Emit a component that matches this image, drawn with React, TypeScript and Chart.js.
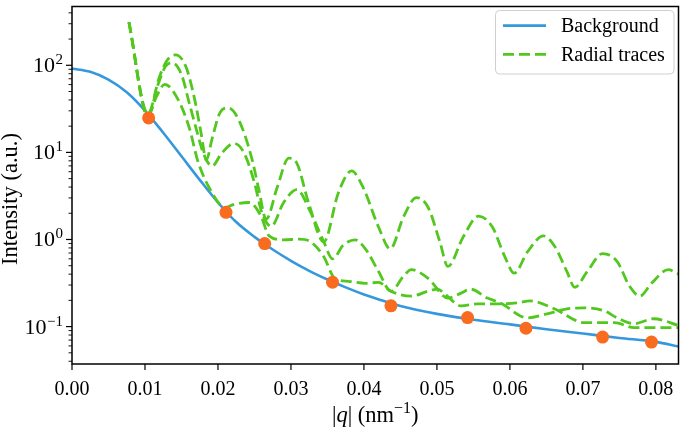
import React, { useEffect, useRef } from 'react';
import { Chart, registerables } from 'chart.js';

Chart.register(...registerables);

// ---------- data ----------
const BG_Q = [0, 0.0025, 0.005, 0.0075, 0.01, 0.0125, 0.015, 0.0175, 0.02, 0.0225, 0.025, 0.0275, 0.03, 0.0325, 0.035, 0.0375, 0.04, 0.0425, 0.045, 0.05, 0.055, 0.06, 0.065, 0.07, 0.075, 0.08, 0.0832];
const BG_I = [91.8, 84.1, 68.4, 49.0, 30.2, 16.8, 9.02, 4.84, 2.66, 1.585, 1.072, 0.767, 0.569, 0.437, 0.347, 0.282, 0.234, 0.1995, 0.172, 0.14, 0.12, 0.106, 0.0933, 0.0832, 0.0741, 0.0668, 0.059];

const DOT_Q = [0.0105, 0.0211, 0.0264, 0.0357, 0.0437, 0.0542, 0.0622, 0.0727, 0.0794];
const DOT_I = [24.9, 2.05, 0.898, 0.323, 0.173, 0.127, 0.0957, 0.0757, 0.0664];

const TRACE_A_Q = [0.0078, 0.0104, 0.012, 0.0131, 0.0142, 0.0156, 0.0168, 0.0177, 0.0184, 0.0192, 0.0202, 0.0214, 0.0229, 0.0247, 0.0256, 0.0266, 0.0281, 0.0297, 0.0308, 0.0324, 0.0345, 0.0365, 0.0383, 0.0399, 0.042, 0.0436, 0.0454, 0.0472, 0.0488, 0.0504, 0.0515, 0.0536, 0.0557, 0.0576, 0.0593, 0.0606, 0.0624, 0.0646, 0.0662, 0.0678, 0.0689, 0.0706, 0.0727, 0.0747, 0.0764, 0.0778, 0.0794, 0.0817, 0.0832];
const TRACE_A_I = [312, 27.7, 74.5, 116, 132, 96.6, 40.9, 16.4, 8.15, 14.4, 27.7, 32.4, 23.1, 8.15, 3.73, 1.71, 3.93, 8.6, 7.54, 2.66, 0.94, 3.45, 6.12, 3.93, 1.39, 0.78, 1.8, 3.03, 2.33, 0.94, 0.49, 1.07, 1.85, 1.39, 0.635, 0.41, 0.72, 1.1, 0.82, 0.43, 0.283, 0.43, 0.69, 0.557, 0.29, 0.224, 0.314, 0.45, 0.397];

const TRACE_B_Q = [0.0078, 0.0104, 0.0118, 0.0128, 0.0137, 0.015, 0.0161, 0.0172, 0.018, 0.0192, 0.0205, 0.0222, 0.0236, 0.025, 0.026, 0.0273, 0.029, 0.0308, 0.0327, 0.0345, 0.0357, 0.0372, 0.0388, 0.0402, 0.042, 0.0437, 0.0454, 0.0465, 0.0488, 0.0515, 0.0533, 0.0546, 0.0569, 0.0587, 0.0624, 0.0651, 0.0678, 0.0702, 0.0729, 0.0747, 0.077, 0.0797, 0.0832];
const TRACE_B_I = [312, 26.3, 60.5, 96.6, 107, 78.5, 35.9, 16.4, 9.77, 6.97, 9.77, 12.7, 9.77, 4.48, 2.05, 1.42, 2.66, 3.73, 2.05, 0.94, 0.6, 0.867, 0.99, 0.78, 0.43, 0.255, 0.377, 0.45, 0.358, 0.213, 0.242, 0.269, 0.213, 0.187, 0.126, 0.14, 0.16, 0.164, 0.152, 0.126, 0.108, 0.123, 0.1026];

const TRACE_C_Q = [0.0078, 0.0104, 0.0116, 0.0127, 0.0145, 0.0161, 0.0172, 0.0188, 0.021, 0.0222, 0.0243, 0.0259, 0.027, 0.029, 0.0311, 0.0327, 0.0345, 0.036, 0.0379, 0.0402, 0.042, 0.0437, 0.0465, 0.0488, 0.0501, 0.0511, 0.0533, 0.0556, 0.0583, 0.061, 0.0628, 0.0661, 0.0702, 0.0743, 0.077, 0.0811, 0.0832];
const TRACE_C_I = [312, 26.3, 44.3, 60.5, 40.9, 18.8, 8.15, 3.93, 2.33, 2.53, 2.66, 1.85, 1.1, 0.99, 1.01, 0.94, 0.635, 0.358, 0.331, 0.314, 0.322, 0.255, 0.224, 0.255, 0.269, 0.236, 0.173, 0.182, 0.182, 0.187, 0.197, 0.16, 0.111, 0.111, 0.0975, 0.0975, 0.0975];

const X_TICKS = [0, 0.01, 0.02, 0.03, 0.04, 0.05, 0.06, 0.07, 0.08];
const Y_MAJOR_EXP = [-1, 0, 1, 2];
const X_MIN = 0;
const X_MAX = 0.0831;
const Y_MIN = 0.0372;
const Y_MAX = 473;

const LABEL_BG = 'Background';
const LABEL_TR = 'Radial traces';
const Y_TITLE = 'Intensity (a.u.)';

// ---------- styles ----------
const FONT = '"Liberation Serif", "Times New Roman", serif';
const BLUE = '#3598dc';
const GREEN = '#52c81e';
const ORANGE = '#f96b1e';
const DASH = [11, 5];
const TITLE_FS = 22.5;

const pts = (q: number[], v: number[]) => q.map((x, i) => ({ x, y: v[i] }));

const decor = {
  id: 'decor',
  afterDraw(chart: any) {
    const { ctx, chartArea: a } = chart;
    const xs = chart.scales.x;
    const ys = chart.scales.y;
    ctx.save();
    ctx.strokeStyle = '#000';
    ctx.fillStyle = '#000';

    // frame
    ctx.lineWidth = 1.5;
    ctx.strokeRect(a.left, a.top, a.right - a.left, a.bottom - a.top);

    // x ticks + labels
    ctx.lineWidth = 1.2;
    ctx.font = `20px ${FONT}`;
    ctx.textAlign = 'center';
    ctx.textBaseline = 'alphabetic';
    X_TICKS.forEach((v) => {
      const px = xs.getPixelForValue(v);
      ctx.beginPath();
      ctx.moveTo(px, a.bottom);
      ctx.lineTo(px, a.bottom + 6);
      ctx.stroke();
      ctx.fillText(v.toFixed(2), px, a.bottom + 31);
    });

    // y ticks (major + minor)
    const eMin = Math.floor(Math.log10(Y_MIN));
    const eMax = Math.ceil(Math.log10(Y_MAX));
    for (let e = eMin; e <= eMax; e++) {
      for (let m = 1; m <= 9; m++) {
        const v = m * Math.pow(10, e);
        if (v < Y_MIN || v > Y_MAX) continue;
        const py = ys.getPixelForValue(v);
        const len = m === 1 ? 6 : 3.5;
        ctx.lineWidth = m === 1 ? 1.2 : 0.9;
        ctx.beginPath();
        ctx.moveTo(a.left - len, py);
        ctx.lineTo(a.left, py);
        ctx.stroke();
      }
    }

    // y labels 10^e
    Y_MAJOR_EXP.forEach((e) => {
      const py = ys.getPixelForValue(Math.pow(10, e));
      const sup = e < 0 ? '\u2212' + String(-e) : String(e);
      ctx.font = `15px ${FONT}`;
      const sw = ctx.measureText(sup).width;
      const right = a.left - 9;
      ctx.textAlign = 'left';
      ctx.fillText(sup, right - sw, py - 1);
      ctx.font = `22px ${FONT}`;
      ctx.textAlign = 'right';
      ctx.fillText('10', right - sw - 0.5, py + 7);
    });

    // x title: |q| (nm^-1)
    const parts: { t: string; f: string; dy: number }[] = [
      { t: '|', f: `${TITLE_FS}px ${FONT}`, dy: 0 },
      { t: 'q', f: `italic ${TITLE_FS}px ${FONT}`, dy: 0 },
      { t: '|', f: `${TITLE_FS}px ${FONT}`, dy: 0 },
      { t: ' (nm', f: `${TITLE_FS}px ${FONT}`, dy: 0 },
      { t: '\u22121', f: `16px ${FONT}`, dy: -9 },
      { t: ')', f: `${TITLE_FS}px ${FONT}`, dy: 0 },
    ];
    let total = 0;
    parts.forEach((p) => {
      ctx.font = p.f;
      total += ctx.measureText(p.t).width;
    });
    let cx = (a.left + a.right) / 2 - total / 2;
    ctx.textAlign = 'left';
    parts.forEach((p) => {
      ctx.font = p.f;
      ctx.fillText(p.t, cx, 422 + p.dy);
      cx += ctx.measureText(p.t).width;
    });

    // y title
    ctx.save();
    ctx.translate(17, 199);
    ctx.rotate(-Math.PI / 2);
    ctx.font = `${TITLE_FS}px ${FONT}`;
    ctx.textAlign = 'center';
    ctx.fillText(Y_TITLE, 0, 0);
    ctx.restore();

    // legend
    const lx = 495.5, ly = 10.5, lw = 178.5, lh = 63.5, r = 4;
    ctx.beginPath();
    ctx.moveTo(lx + r, ly);
    ctx.lineTo(lx + lw - r, ly);
    ctx.arcTo(lx + lw, ly, lx + lw, ly + r, r);
    ctx.lineTo(lx + lw, ly + lh - r);
    ctx.arcTo(lx + lw, ly + lh, lx + lw - r, ly + lh, r);
    ctx.lineTo(lx + r, ly + lh);
    ctx.arcTo(lx, ly + lh, lx, ly + lh - r, r);
    ctx.lineTo(lx, ly + r);
    ctx.arcTo(lx, ly, lx + r, ly, r);
    ctx.closePath();
    ctx.fillStyle = 'rgba(255,255,255,0.8)';
    ctx.fill();
    ctx.strokeStyle = '#cfcfcf';
    ctx.lineWidth = 1;
    ctx.stroke();

    const rows = [
      { label: LABEL_BG, color: BLUE, dash: [] as number[], y: 25.7 },
      { label: LABEL_TR, color: GREEN, dash: DASH, y: 54.3 },
    ];
    rows.forEach((row) => {
      ctx.strokeStyle = row.color;
      ctx.lineWidth = 2.8;
      ctx.setLineDash(row.dash);
      ctx.beginPath();
      ctx.moveTo(503, row.y);
      ctx.lineTo(546, row.y);
      ctx.stroke();
      ctx.setLineDash([]);
      ctx.fillStyle = '#000';
      ctx.font = `20px ${FONT}`;
      ctx.textAlign = 'left';
      ctx.fillText(row.label, 561, row.y + 6.5);
    });

    ctx.restore();
  },
};

export default function App() {
  const ref = useRef<HTMLCanvasElement | null>(null);

  useEffect(() => {
    if (!ref.current) return;
    const traceStyle = {
      borderColor: GREEN,
      borderWidth: 2.8,
      borderDash: DASH,
      pointRadius: 0,
      fill: false,
      cubicInterpolationMode: 'monotone' as const,
      order: 1,
    };
    const chart = new Chart(ref.current, {
      type: 'line',
      data: {
        datasets: [
          {
            label: 'points',
            data: pts(DOT_Q, DOT_I),
            showLine: false,
            pointRadius: 6.5,
            pointBackgroundColor: ORANGE,
            pointBorderWidth: 0,
            order: 0,
          },
          { label: LABEL_TR, data: pts(TRACE_A_Q, TRACE_A_I), ...traceStyle },
          { label: LABEL_TR + ' 2', data: pts(TRACE_B_Q, TRACE_B_I), ...traceStyle },
          { label: LABEL_TR + ' 3', data: pts(TRACE_C_Q, TRACE_C_I), ...traceStyle },
          {
            label: LABEL_BG,
            data: pts(BG_Q, BG_I),
            borderColor: BLUE,
            borderWidth: 2.6,
            pointRadius: 0,
            fill: false,
            cubicInterpolationMode: 'monotone',
            order: 2,
          },
        ],
      },
      options: {
        responsive: false,
        animation: false,
        devicePixelRatio: 1,
        events: [],
        layout: { padding: { left: 0, right: 3, top: 1, bottom: 0 } },
        plugins: { legend: { display: false }, tooltip: { enabled: false } },
        scales: {
          x: {
            type: 'linear',
            min: X_MIN,
            max: X_MAX,
            grid: { display: false },
            border: { display: false },
            ticks: { display: false },
            afterFit: (s: any) => {
              s.height = 68;
            },
          },
          y: {
            type: 'logarithmic',
            min: Y_MIN,
            max: Y_MAX,
            grid: { display: false },
            border: { display: false },
            ticks: { display: false },
            afterFit: (s: any) => {
              s.width = 72;
            },
          },
        },
      },
      plugins: [decor],
    } as any);
    return () => chart.destroy();
  }, []);

  return (
    <div style={{ position: 'fixed', left: 0, top: 0, width: 685, height: 432, background: '#fff' }}>
      <canvas ref={ref} width={685} height={432} style={{ display: 'block' }} />
    </div>
  );
}
